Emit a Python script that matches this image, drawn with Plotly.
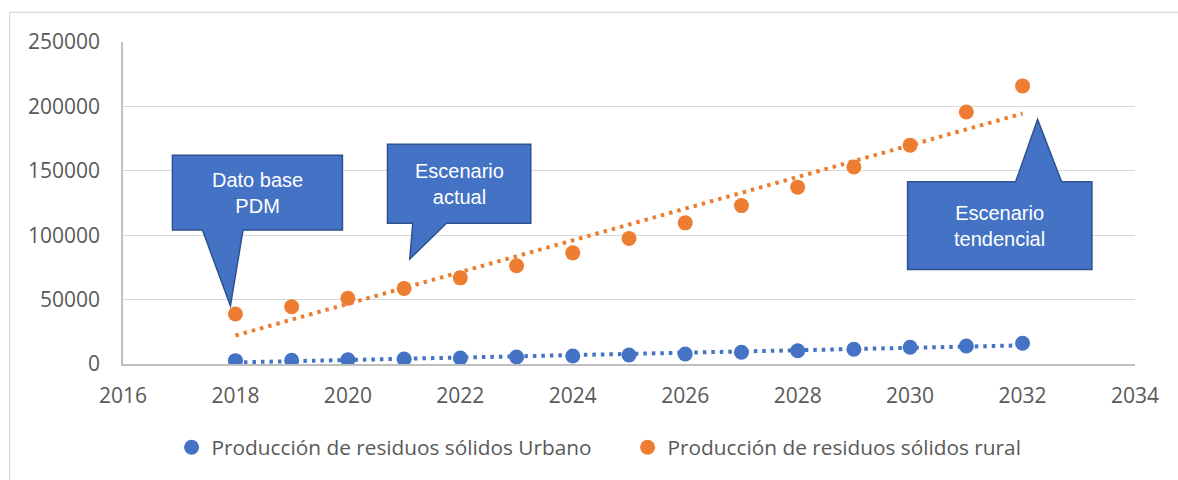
import numpy as np
import plotly.graph_objects as go

years = [2018, 2019, 2020, 2021, 2022, 2023, 2024, 2025, 2026, 2027, 2028, 2029, 2030, 2031, 2032]
urbano = [2600, 2900, 3350, 3900, 4700, 5450, 6200, 7000, 7800, 9100, 10250, 11400, 12950, 14000, 16100]
rural = [38800, 44500, 51000, 58700, 66900, 76300, 86300, 97500, 109600, 123000, 137300, 153000, 169900, 195700, 215900]

name_urbano = "Producción de residuos sólidos Urbano"
name_rural = "Producción de residuos sólidos rural"

x_ticks = [2016, 2018, 2020, 2022, 2024, 2026, 2028, 2030, 2032, 2034]
y_ticks = [0, 50000, 100000, 150000, 200000, 250000]

callouts = [
    # text, rect (x0, x1, y_top, y_bottom), pointer (xa, xb, tip_x, tip_y)
    ("Dato base<br>PDM", (2016.879, 2019.903, 162100, 103950), (2017.413, 2018.135, 2017.911, 45200)),
    ("Escenario<br>actual", (2020.704, 2023.253, 170650, 109370), (2021.154, 2021.753, 2021.100, 81450)),
    ("Escenario<br>tendencial", (2029.955, 2033.234, 141410, 73460), (2031.876, 2032.694, 2032.268, 189800)),
]

BLUE = "#4472C4"
ORANGE = "#ED7D31"
GRID = "#D9D9D9"
TXT = "#595959"

xs = np.array(years, dtype=float)
cu = np.polyfit(xs, np.array(urbano, dtype=float), 1)
cr = np.polyfit(xs, np.array(rural, dtype=float), 1)

fig = go.Figure()

fig.add_trace(go.Scatter(x=years, y=list(np.polyval(cr, xs)), mode="lines",
                         line=dict(color=ORANGE, width=4, dash="3.5px,5px"),
                         showlegend=False, hoverinfo="skip"))
fig.add_trace(go.Scatter(x=years, y=list(np.polyval(cu, xs)), mode="lines",
                         line=dict(color=BLUE, width=4, dash="3.5px,5px"),
                         showlegend=False, hoverinfo="skip"))
fig.add_trace(go.Scatter(x=years, y=urbano, mode="markers", name=name_urbano,
                         marker=dict(color=BLUE, size=15)))
fig.add_trace(go.Scatter(x=years, y=rural, mode="markers", name=name_rural,
                         marker=dict(color=ORANGE, size=15)))

shapes = []
annotations = []
for text, (x0, x1, yt, yb), (xa, xb, tx, ty) in callouts:
    if ty < yb:
        path = (f"M {x0},{yt} L {x1},{yt} L {x1},{yb} L {xb},{yb} L {tx},{ty} "
                f"L {xa},{yb} L {x0},{yb} Z")
    else:
        path = (f"M {x0},{yt} L {xa},{yt} L {tx},{ty} L {xb},{yt} L {x1},{yt} "
                f"L {x1},{yb} L {x0},{yb} Z")
    shapes.append(dict(type="path", xref="x", yref="y", path=path,
                       fillcolor=BLUE, line=dict(color="#2F528F", width=1.5), layer="above"))
    annotations.append(dict(x=(x0 + x1) / 2, y=(yt + yb) / 2, xref="x", yref="y",
                            text=text, showarrow=False,
                            font=dict(family="Liberation Sans, Arial", size=20, color="white")))

# outer chart border
shapes.append(dict(type="rect", xref="paper", yref="paper",
                   x0=(10 - 123.3) / 1011.7, x1=(1190 - 123.3) / 1011.7,
                   y0=(364 - 495) / 322.3, y1=(364 - 12) / 322.3,
                   line=dict(color="#D9D9D9", width=1.2), fillcolor="rgba(0,0,0,0)", layer="below"))

fig.update_layout(
    width=1178, height=480,
    margin=dict(l=123, r=43, t=42, b=116),
    paper_bgcolor="white", plot_bgcolor="white",
    font=dict(family="Open Sans, Liberation Sans, sans-serif", color=TXT),
    shapes=shapes, annotations=annotations,
    showlegend=True,
    legend=dict(orientation="h", x=0.048, xanchor="left", y=-0.26, yanchor="middle",
                font=dict(size=20.8, color=TXT), entrywidth=411, itemclick=False),
    xaxis=dict(range=[2016, 2034], tickvals=x_ticks, ticktext=[str(v) for v in x_ticks],
               showgrid=False, zeroline=False, showline=True, linecolor="#BFBFBF", linewidth=1.5,
               ticks="", tickfont=dict(size=21, color=TXT), ticklabelstandoff=12),
    yaxis=dict(range=[0, 250000], tickvals=y_ticks, ticktext=[str(v) for v in y_ticks],
               showgrid=True, gridcolor=GRID, gridwidth=1.2, zeroline=False,
               showline=True, linecolor="#BFBFBF", linewidth=1.5,
               ticks="", tickfont=dict(size=21, color=TXT), ticklabelstandoff=17),
)

fig.write_html("out.html", config={"displayModeBar": False},
               post_script="document.body.style.margin='0';document.body.style.overflow='hidden';")
